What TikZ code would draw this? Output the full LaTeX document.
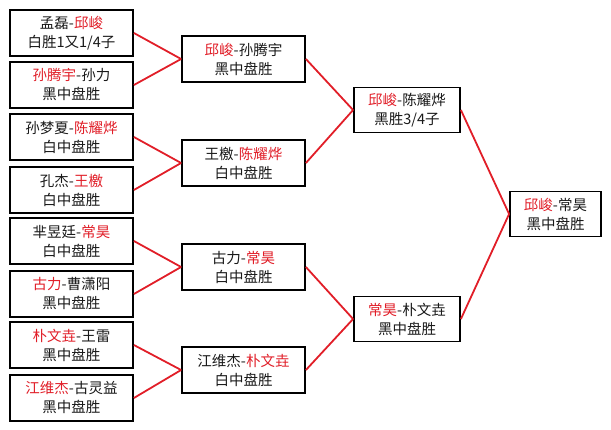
\documentclass[tikz,border=0pt]{standalone}
\usepackage{fontspec}
\setmainfont{Noto Sans CJK SC}
\definecolor{wred}{RGB}{225,30,40}
\begin{document}
\begin{tikzpicture}[x=1pt,y=-1pt,
  match/.style={draw=black,line width=1.8pt,fill=white,inner sep=0pt,align=center,
    font=\fontsize{14.5}{19}\selectfont,text=black!90},
  c1/.style={match,minimum width=123pt,minimum height=46pt},
  c2/.style={match,minimum width=123pt,minimum height=46pt},
  c3/.style={match,minimum width=106pt,minimum height=45pt},
  c4/.style={match,minimum width=91pt,minimum height=45pt},
  link/.style={wred,line width=1.8pt}]
\useasboundingbox (0,0) rectangle (611,429);
\newcommand{\rd}[1]{\textcolor{wred}{#1}}
% column 1
\node[c1] (a1) at (71.5,33) {孟磊-\rd{邱峻}\\白胜1又1/4子};
\node[c1] (a2) at (71.5,85) {\rd{孙腾宇}-孙力\\黑中盘胜};
\node[c1] (a3) at (71.5,137) {孙梦夏-\rd{陈耀烨}\\白中盘胜};
\node[c1] (a4) at (71.5,190) {孔杰-\rd{王檄}\\白中盘胜};
\node[c1] (a5) at (71.5,241) {芈昱廷-\rd{常昊}\\白中盘胜};
\node[c1] (a6) at (71.5,294) {\rd{古力}-曹潇阳\\黑中盘胜};
\node[c1] (a7) at (71.5,345) {\rd{朴文垚}-王雷\\黑中盘胜};
\node[c1] (a8) at (71.5,398) {\rd{江维杰}-古灵益\\黑中盘胜};
% column 2
\node[c2] (b1) at (243.5,59) {\rd{邱峻}-孙腾宇\\黑中盘胜};
\node[c2] (b2) at (243.5,163) {王檄-\rd{陈耀烨}\\白中盘胜};
\node[c2] (b3) at (243.5,267) {古力-\rd{常昊}\\白中盘胜};
\node[c2] (b4) at (243.5,370) {江维杰-\rd{朴文垚}\\白中盘胜};
% column 3
\node[c3] (d1) at (407,110) {\rd{邱峻}-陈耀烨\\黑胜3/4子};
\node[c3] (d2) at (407,319) {\rd{常昊}-朴文垚\\黑中盘胜};
% column 4
\node[c4] (f) at (555.5,214) {\rd{邱峻}-常昊\\黑中盘胜};
% links
\foreach \s/\t in {a1/b1,a2/b1,a3/b2,a4/b2,a5/b3,a6/b3,a7/b4,a8/b4,b1/d1,b2/d1,b3/d2,b4/d2,d1/f,d2/f}
  \draw[link] (\s.east) -- (\t.west);
\end{tikzpicture}
\end{document}
